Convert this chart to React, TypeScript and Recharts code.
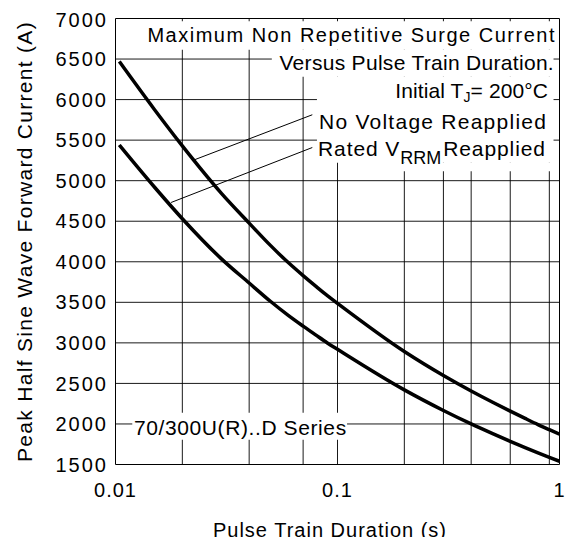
import { LineChart, Line, XAxis, YAxis, CartesianGrid, ReferenceArea, ReferenceLine } from "recharts";

// Pulse train duration (s) and surge current (A)
const durations = [0.0104, 0.015, 0.02, 0.03, 0.04, 0.05, 0.06, 0.07, 0.08, 0.09, 0.1, 0.2, 0.3, 0.4, 0.5, 0.6, 0.7, 0.8, 0.9, 1];
const noVoltageReapplied = [6470, 5875, 5429, 4844, 4477, 4199, 3990, 3829, 3696, 3582, 3487, 2893, 2597, 2406, 2267, 2158, 2068, 1992, 1929, 1874];
const ratedVrrmReapplied = [5440, 4919, 4531, 4036, 3738, 3510, 3339, 3206, 3095, 2999, 2920, 2420, 2166, 2000, 1880, 1785, 1708, 1643, 1588, 1540];

const xTicks = [0.01, 0.1, 1];
const yTicks = [1500, 2000, 2500, 3000, 3500, 4000, 4500, 5000, 5500, 6000, 6500, 7000];
const xGrid = [0.02, 0.03, 0.04, 0.05, 0.06, 0.07, 0.08, 0.09, 0.1, 0.2, 0.3, 0.4, 0.5, 0.6, 0.7, 0.8, 0.9];
const yGrid = [2000, 2500, 3000, 3500, 4000, 4500, 5000, 5500, 6000, 6500];

// leader lines from the curves to their captions
const noVoltageLeader = [{ x: 0.0227, y: 5258 }, { x: 0.077, y: 5813 }];
const ratedLeader = [{ x: 0.0178, y: 4731 }, { x: 0.077, y: 5409 }];

const data = durations.map((t, i) => ({
  t,
  noVoltage: noVoltageReapplied[i],
  rated: ratedVrrmReapplied[i],
}));

const FONT = "'Liberation Sans', Arial, sans-serif";

const txt = { fill: "#000", fontFamily: FONT };

// all the in-plot captions, drawn on top of the white boxes
function Annotations() {
  return (
    <g>
      <text {...txt} x={548} y={34} fontSize={20} letterSpacing={1.5} textAnchor="end">
        Maximum Non Repetitive Surge Current
      </text>
      <text {...txt} x={546} y={62} fontSize={21} letterSpacing={0.3} textAnchor="end">
        Versus Pulse Train Duration.
      </text>
      <text {...txt} x={540} y={90} fontSize={21} letterSpacing={0.1} textAnchor="end">
        Initial T<tspan fontSize={14} dy={4}>J</tspan>
        <tspan dy={-4}>= 200°C</tspan>
      </text>
      <text {...txt} x={311} y={121} fontSize={21} letterSpacing={1.25}>
        No Voltage Reapplied
      </text>
      <text {...txt} x={310} y={148} fontSize={21} letterSpacing={0.9}>
        Rated V<tspan fontSize={18} dy={8} letterSpacing={0}>RRM</tspan>
        <tspan dy={-8} dx={2}>Reapplied</tspan>
      </text>
      <text {...txt} x={126} y={427} fontSize={21} letterSpacing={0.6}>
        70/300U(R)..D Series
      </text>
    </g>
  );
}

export default function App() {
  return (
    <div style={{ width: 565, height: 529, fontFamily: FONT }}>
      {/* let the axis title's descenders spill past the svg edge */}
      <style>{".recharts-surface { overflow: visible; }"}</style>
      <LineChart width={565} height={529} data={data} margin={{ top: 10.5, right: 13.5, left: 0, bottom: 0 }}>
        <CartesianGrid
          stroke="#000"
          strokeOpacity={0.9}
          verticalValues={xGrid}
          horizontalValues={yGrid}
        />
        <XAxis
          dataKey="t"
          type="number"
          scale="log"
          domain={[0.01, 1]}
          ticks={xTicks}
          allowDataOverflow
          axisLine={false}
          tickLine={false}
          tickSize={0}
          tickMargin={18}
          height={72.5}
          tick={{ fontSize: 20, fill: "#000", letterSpacing: 1 }}
          label={{
            value: "Pulse Train Duration (s)",
            position: "insideBottom",
            offset: 0.5,
            dx: -7.5,
            fontSize: 20,
            fill: "#000",
            style: { letterSpacing: 1 },
          }}
        />
        <YAxis
          type="number"
          domain={[1500, 7000]}
          ticks={yTicks}
          allowDataOverflow
          axisLine={false}
          tickLine={false}
          tickSize={0}
          tickMargin={7.5}
          width={107.5}
          tick={{ fontSize: 20, fill: "#000", letterSpacing: 2 }}
          label={{
            value: "Peak Half Sine Wave Forward Current (A)",
            angle: -90,
            position: "insideLeft",
            offset: 17,
            fontSize: 21,
            fill: "#000",
            style: { textAnchor: "middle", letterSpacing: 1.3 },
          }}
        />

        {/* white boxes behind the annotations, hiding the grid */}
        <ReferenceArea x1={0.0128} x2={0.97} y1={6614} y2={6965} fill="#fff" fillOpacity={1} stroke="none" />
        <ReferenceArea x1={0.0506} x2={0.94} y1={6281} y2={6614} fill="#fff" fillOpacity={1} stroke="none" />
        <ReferenceArea x1={0.0808} x2={0.94} y1={5221} y2={6281} fill="#fff" fillOpacity={1} stroke="none" />
        <ReferenceArea x1={0.182} x2={0.94} y1={5116} y2={5221} fill="#fff" fillOpacity={1} stroke="none" />
        <ReferenceArea x1={0.0119} x2={0.1104} y1={1805} y2={2138} fill="#fff" fillOpacity={1} stroke="none" />

        {/* plot frame, carrying the captions */}
        <ReferenceArea
          x1={0.01}
          x2={1}
          y1={1500}
          y2={7000}
          fill="none"
          stroke="#000"
          strokeWidth={1}
          label={<Annotations />}
        />

        <ReferenceLine segment={noVoltageLeader} stroke="#000" strokeWidth={1} />
        <ReferenceLine segment={ratedLeader} stroke="#000" strokeWidth={1} />

        <Line type="monotone" dataKey="noVoltage" stroke="#000" strokeWidth={3.5} dot={false} isAnimationActive={false} />
        <Line type="monotone" dataKey="rated" stroke="#000" strokeWidth={3.5} dot={false} isAnimationActive={false} />
      </LineChart>
    </div>
  );
}
